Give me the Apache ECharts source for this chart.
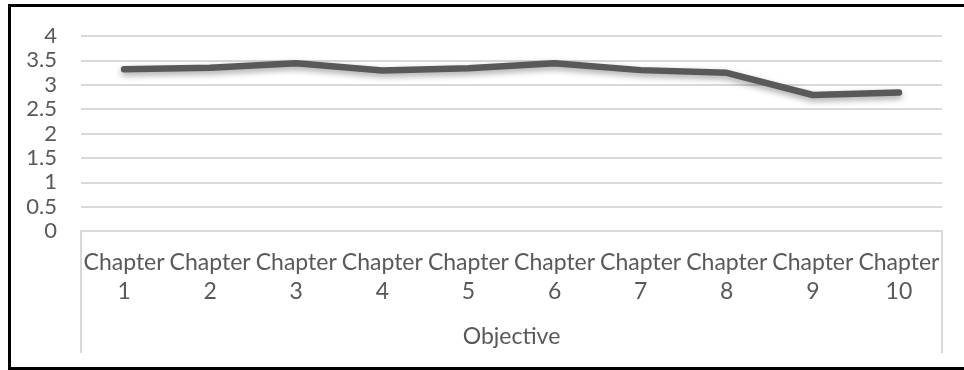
<!DOCTYPE html>
<html>
<head>
<meta charset="utf-8">
<script src="https://cdn.jsdelivr.net/npm/echarts@6/dist/echarts.min.js"></script>
<style>
  html, body { margin: 0; padding: 0; background: #fff; overflow: hidden; }
  #chart { position: absolute; left: 0; top: 0; width: 964px; height: 370px; }
  #frame {
    position: absolute; left: 8px; top: 4px; width: 980px; height: 366px;
    box-sizing: border-box; border: 3px solid #000; border-right: none;
    pointer-events: none;
  }
</style>
</head>
<body>
<div id="chart"></div>
<div id="frame"></div>
<script>
// Average score per chapter
const chapters = ['Chapter\n1', 'Chapter\n2', 'Chapter\n3', 'Chapter\n4', 'Chapter\n5',
                  'Chapter\n6', 'Chapter\n7', 'Chapter\n8', 'Chapter\n9', 'Chapter\n10'];
const scores = [3.32, 3.35, 3.44, 3.29, 3.34, 3.44, 3.30, 3.245, 2.79, 2.84];
const groupName = 'Objective';
const yTicks = [0, 0.5, 1, 1.5, 2, 2.5, 3, 3.5, 4];

const FONT = 'Lato';
const TEXT = '#595959';
const GRID = '#d9d9d9';

const chart = echarts.init(document.getElementById('chart'), null, { renderer: 'canvas' });

chart.setOption({
  animation: false,
  grid: { left: 81, right: 22, top: 36, bottom: 139, containLabel: false },
  xAxis: {
    type: 'category',
    data: chapters,
    boundaryGap: true,
    axisLine: { show: true, lineStyle: { color: GRID, width: 2 } },
    axisTick: { show: false },
    axisLabel: {
      color: TEXT, fontFamily: FONT, fontSize: 23, lineHeight: 29,
      margin: 17, interval: 0
    },
    name: groupName,
    nameLocation: 'middle',
    nameGap: 94,
    nameTextStyle: { color: TEXT, fontFamily: FONT, fontSize: 23 }
  },
  yAxis: {
    type: 'value',
    min: yTicks[0],
    max: yTicks[yTicks.length - 1],
    interval: yTicks[1] - yTicks[0],
    axisLine: { show: false },
    axisTick: { show: false },
    splitLine: { lineStyle: { color: GRID, width: 2 } },
    axisLabel: { color: TEXT, fontFamily: FONT, fontSize: 22, margin: 24 }
  },
  series: [{
    type: 'line',
    data: scores,
    symbol: 'none',
    lineStyle: {
      color: '#595959', width: 6.5, cap: 'round', join: 'round',
      shadowColor: 'rgba(0,0,0,0.35)', shadowBlur: 6, shadowOffsetY: 3
    }
  }]
});

// Side rules of the category-group box, placed from the axis scales
const p0 = chart.convertToPixel({ xAxisIndex: 0 }, 0);
const p1 = chart.convertToPixel({ xAxisIndex: 0 }, 1);
const pN = chart.convertToPixel({ xAxisIndex: 0 }, chapters.length - 1);
const band = p1 - p0;
const yBase = chart.convertToPixel({ yAxisIndex: 0 }, 0);
const boxDepth = 122;
const leftX = p0 - band / 2;
const rightX = pN + band / 2;

chart.setOption({
  graphic: [leftX, rightX].map(x => ({
    type: 'line',
    shape: { x1: x, y1: yBase, x2: x, y2: yBase + boxDepth },
    style: { stroke: GRID, lineWidth: 2 },
    silent: true
  }))
});
</script>
</body>
</html>
